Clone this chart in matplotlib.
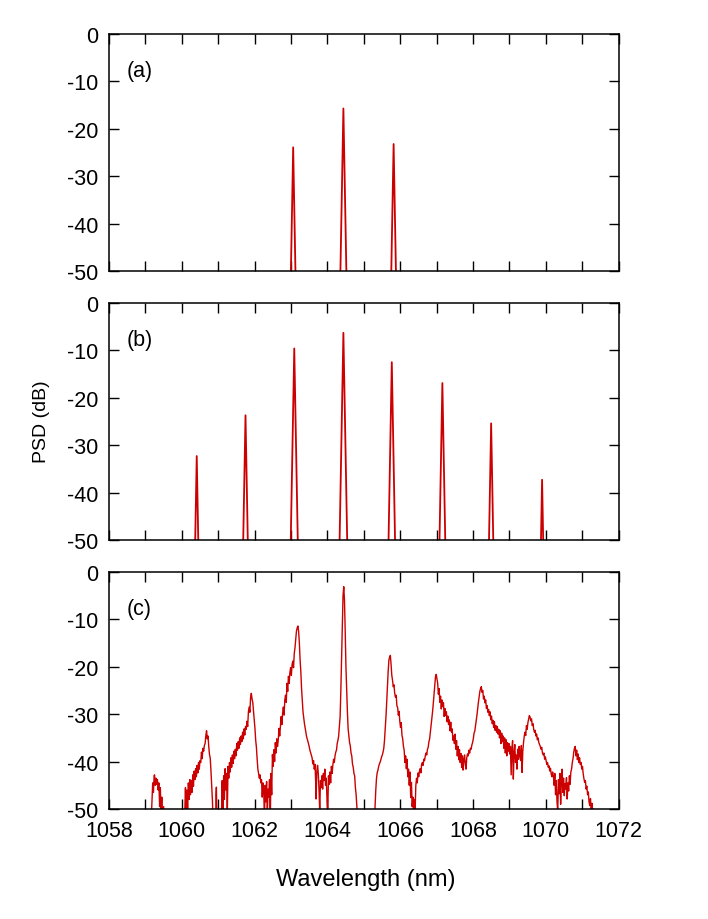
import numpy as np
import matplotlib
matplotlib.use("Agg")
import matplotlib.pyplot as plt

plt.rcParams["font.family"] = ["Liberation Sans", "DejaVu Sans"]
plt.rcParams["axes.unicode_minus"] = False

LINE_COLOR = "#cc0000"

# panel (a): three lines, centre wavelength (nm) and peak level (dB)
a_centers = [1063.06, 1064.44, 1065.82]
a_peaks = [-23.9, -15.7, -23.2]

# panel (b): eight lines
b_centers = [1060.41, 1061.75, 1063.09, 1064.44, 1065.77, 1067.16, 1068.50, 1069.90]
b_peaks = [-32.3, -23.7, -9.6, -6.3, -12.5, -16.9, -25.4, -37.3]

c_wavelength = [
    1059.12, 1059.17, 1059.20, 1059.22, 1059.24, 1059.25, 1059.27, 1059.29, 1059.31, 1059.33,
    1059.35, 1059.37, 1059.39, 1059.41, 1059.43, 1059.45, 1059.47, 1059.50, 1059.54,
    1060.04, 1060.08, 1060.10, 1060.12, 1060.14, 1060.16, 1060.18, 1060.20, 1060.22, 1060.24,
    1060.26, 1060.28, 1060.30, 1060.32, 1060.34, 1060.36, 1060.38, 1060.40, 1060.42, 1060.44,
    1060.46, 1060.48, 1060.50, 1060.52, 1060.54, 1060.56, 1060.58, 1060.60, 1060.62, 1060.64,
    1060.66, 1060.68, 1060.70, 1060.72, 1060.74, 1060.76, 1060.78, 1060.80, 1060.82, 1060.84,
    1060.87, 1060.92, 1060.94, 1060.95, 1060.97, 1061.02,
    1061.06, 1061.09, 1061.11, 1061.13, 1061.15, 1061.17, 1061.19, 1061.21, 1061.23, 1061.25,
    1061.27, 1061.29, 1061.31, 1061.33, 1061.35, 1061.37, 1061.39, 1061.41, 1061.43, 1061.45,
    1061.47, 1061.49, 1061.51, 1061.53, 1061.55, 1061.57, 1061.59, 1061.61, 1061.63, 1061.65,
    1061.67, 1061.69, 1061.71, 1061.73, 1061.75, 1061.77, 1061.79, 1061.81, 1061.83, 1061.85,
    1061.87, 1061.89, 1061.91, 1061.93, 1061.95, 1061.97, 1061.99, 1062.01, 1062.03, 1062.05,
    1062.07, 1062.09, 1062.11, 1062.13, 1062.15, 1062.17, 1062.19, 1062.21, 1062.23, 1062.25,
    1062.27, 1062.29, 1062.31, 1062.33, 1062.35, 1062.37, 1062.39, 1062.41, 1062.43, 1062.45,
    1062.47, 1062.49, 1062.51, 1062.53, 1062.55, 1062.57, 1062.59, 1062.61, 1062.63, 1062.65,
    1062.67, 1062.69, 1062.71, 1062.73, 1062.75, 1062.77, 1062.79, 1062.81, 1062.83, 1062.85,
    1062.87, 1062.89, 1062.91, 1062.93, 1062.95, 1062.97, 1062.99, 1063.01, 1063.03, 1063.05,
    1063.07, 1063.09, 1063.11, 1063.13, 1063.15, 1063.17, 1063.19,
    1063.21, 1063.23, 1063.25, 1063.27, 1063.29, 1063.31, 1063.33, 1063.35, 1063.37, 1063.40,
    1063.43, 1063.46, 1063.49, 1063.52, 1063.55, 1063.58, 1063.60, 1063.62, 1063.64, 1063.66,
    1063.68, 1063.69, 1063.71, 1063.73, 1063.75, 1063.77, 1063.79, 1063.81, 1063.83, 1063.85,
    1063.87, 1063.89, 1063.91, 1063.93, 1063.95, 1063.97, 1063.99, 1064.01, 1064.03, 1064.05,
    1064.07, 1064.09, 1064.11, 1064.13, 1064.15, 1064.17, 1064.19, 1064.21, 1064.23, 1064.25,
    1064.27, 1064.29, 1064.31, 1064.33,
    1064.35, 1064.37, 1064.39, 1064.41, 1064.43, 1064.45, 1064.47, 1064.49, 1064.51, 1064.53,
    1064.55, 1064.57, 1064.59, 1064.61, 1064.63, 1064.65, 1064.67, 1064.69, 1064.71, 1064.73,
    1064.75, 1064.77, 1064.79, 1064.81, 1064.83, 1064.86,
    1065.28, 1065.31, 1065.33, 1065.35, 1065.37, 1065.39, 1065.41, 1065.43, 1065.45, 1065.47,
    1065.49, 1065.51, 1065.53, 1065.55, 1065.57, 1065.59, 1065.61, 1065.63, 1065.65, 1065.67,
    1065.69, 1065.71, 1065.73, 1065.75, 1065.77, 1065.79, 1065.81, 1065.83, 1065.85, 1065.87,
    1065.89, 1065.91, 1065.93, 1065.95, 1065.97, 1065.99, 1066.01, 1066.03, 1066.05, 1066.07,
    1066.09, 1066.11, 1066.13, 1066.15, 1066.17, 1066.19, 1066.21, 1066.23, 1066.25, 1066.27,
    1066.29, 1066.31, 1066.33, 1066.35, 1066.37, 1066.39, 1066.41, 1066.43,
    1066.45, 1066.47, 1066.49, 1066.51, 1066.53, 1066.55, 1066.57, 1066.59, 1066.61, 1066.63,
    1066.65, 1066.67, 1066.69, 1066.71, 1066.73, 1066.75, 1066.77, 1066.79, 1066.81, 1066.83,
    1066.85, 1066.87, 1066.89, 1066.91, 1066.93, 1066.95, 1066.97, 1066.99, 1067.01, 1067.03,
    1067.05, 1067.07, 1067.09, 1067.11, 1067.13, 1067.15, 1067.17, 1067.19, 1067.21, 1067.23,
    1067.25, 1067.27, 1067.29, 1067.31, 1067.33, 1067.35, 1067.37, 1067.39, 1067.41, 1067.43,
    1067.45, 1067.47, 1067.49, 1067.51, 1067.53, 1067.55, 1067.57, 1067.59, 1067.61, 1067.63,
    1067.65, 1067.67, 1067.69, 1067.71, 1067.73, 1067.75, 1067.77, 1067.79, 1067.81, 1067.83,
    1067.85, 1067.87, 1067.89, 1067.91, 1067.93, 1067.95, 1067.97, 1067.99,
    1068.01, 1068.03, 1068.05, 1068.07, 1068.09, 1068.11, 1068.13, 1068.15, 1068.17, 1068.19,
    1068.21, 1068.23, 1068.25, 1068.27, 1068.29, 1068.31, 1068.33, 1068.35, 1068.37, 1068.39,
    1068.41, 1068.43, 1068.45, 1068.47, 1068.49, 1068.51, 1068.53, 1068.55, 1068.57, 1068.59,
    1068.61, 1068.63, 1068.65, 1068.67, 1068.69, 1068.71, 1068.73, 1068.75, 1068.77, 1068.79,
    1068.81, 1068.83, 1068.85, 1068.87, 1068.89, 1068.91, 1068.93, 1068.95, 1068.97, 1068.99,
    1069.01, 1069.03, 1069.05, 1069.07, 1069.09, 1069.11, 1069.13, 1069.15, 1069.17, 1069.19,
    1069.21, 1069.23, 1069.25, 1069.27, 1069.29, 1069.31, 1069.33, 1069.35, 1069.37, 1069.39,
    1069.41, 1069.43, 1069.45, 1069.47, 1069.49, 1069.51, 1069.53, 1069.55, 1069.57, 1069.59,
    1069.61, 1069.63, 1069.65, 1069.67, 1069.69, 1069.71, 1069.73, 1069.75, 1069.77, 1069.79,
    1069.81, 1069.83, 1069.85, 1069.87, 1069.89, 1069.91, 1069.93, 1069.95, 1069.97, 1069.99,
    1070.01, 1070.03, 1070.05, 1070.07, 1070.09, 1070.11, 1070.13, 1070.15, 1070.17, 1070.19,
    1070.21, 1070.23, 1070.25, 1070.27, 1070.29, 1070.31, 1070.33, 1070.35, 1070.37, 1070.39,
    1070.41, 1070.43, 1070.45, 1070.47, 1070.49, 1070.51, 1070.53, 1070.55, 1070.57, 1070.59,
    1070.61, 1070.63, 1070.65, 1070.67,
    1070.69, 1070.71, 1070.73, 1070.75, 1070.77, 1070.79, 1070.81, 1070.83, 1070.85, 1070.87,
    1070.89, 1070.91, 1070.93, 1070.95, 1070.97, 1070.99, 1071.01, 1071.03, 1071.05, 1071.07,
    1071.09, 1071.11, 1071.13, 1071.15, 1071.17, 1071.19, 1071.21, 1071.23, 1071.25, 1071.27,
    1071.29, 1071.31, 1071.33, 1071.36,
]
c_psd = [
    -60, -50.5, -44.5, -46.5, -43.0, -42.8, -45.0, -43.5, -44.8, -43.8,
    -46.0, -44.5, -49.5, -45.5, -51, -47.5, -52, -49.5, -60,
    -60, -51, -45.5, -52, -46, -50.5, -44.5, -48, -43.8, -47,
    -44, -46.5, -42.8, -45.2, -42, -43.8, -41.5, -43.2, -40.8, -42.4,
    -40.2, -41.6, -39.8, -40.2, -38, -39.4, -37.2, -37.8, -36.6, -36.2,
    -34.5, -33.5, -35.2, -34.6, -36.8, -38.5, -39.2, -41.8, -45, -48,
    -55, -58, -47, -45.4, -55, -60,
    -60, -51, -44, -52, -43, -48, -41.5, -46, -42.5, -51,
    -41, -43.5, -40.2, -42.2, -39.2, -41.2, -38.6, -40.4, -37.8, -39.4,
    -37.4, -38.8, -36.2, -37.6, -35.8, -37.2, -35, -36.4, -34.6, -35.8,
    -33.8, -35.2, -33.1, -34.4, -32.6, -33.2, -31.5, -32.6, -29.5, -28.5,
    -29.6, -26.5, -25.6, -26.8, -27.5, -29.5, -31.2, -33, -35.5, -37,
    -39.5, -41.6, -42.5, -43.5, -42.8, -44.5, -43.8, -47.5, -44.5, -46,
    -52, -45, -48.5, -44.2, -51, -45.8, -47.5, -43.8, -53, -42.5,
    -47, -38.5, -41, -37.5, -40, -36, -38.2, -35.2, -36.8, -35.5,
    -33, -34.6, -32.5, -30.5, -32.2, -29.8, -28.5, -30.2, -27, -26,
    -27.5, -23.5, -25.2, -22, -23.5, -21.2, -20.2, -21.8, -19.5, -18.8,
    -20.2, -17.2, -16, -14.2, -12.5, -11.8, -11.4,
    -12.5, -15, -18.5, -21, -24.5, -27.2, -29.5, -30.8, -32, -33.4,
    -34.8, -35.6, -36.5, -37.6, -38.4, -39.2, -40.5, -39.8, -41.6, -40.6,
    -44.5, -47.9, -42, -40.8, -42.5, -46, -50.5, -44, -45.5, -43,
    -45.8, -42.5, -44, -41.6, -45, -43.5, -48, -51, -43, -44.8,
    -42.2, -44.5, -41, -42.5, -40.8, -39.5, -40.2, -38.8, -38, -37.6,
    -36.2, -35.5, -34.6, -32.4,
    -30.5, -25, -18, -10, -5, -3.1, -6, -12.5, -20, -25,
    -29.5, -33.1, -34.5, -36, -36.7, -38.2, -38.8, -40.5, -41.2, -42.5,
    -43, -45.5, -47, -49.5, -53, -60,
    -60, -49.5, -46, -43.5, -42.3, -41.8, -41, -40.5, -40.1, -39.6,
    -39, -38.6, -38, -37.2, -35.5, -33, -30.5, -27.5, -24, -21,
    -18.6, -18, -17.6, -19.5, -21.8, -22.8, -24.2, -23.8, -25.6, -26.4,
    -26, -28.2, -28.6, -30.2, -29.4, -31.5, -32.8, -31.8, -34.5, -35.2,
    -36.8, -37.6, -40.2, -38.8, -41.5, -39.5, -43.2, -41.6, -45, -42.2,
    -47.6, -44.4, -49.5, -47.5, -52, -48, -50.5, -45.1,
    -43.5, -44.5, -42.4, -43.2, -42.0, -41.5, -42.4, -40.6, -40.2, -40.8,
    -39.5, -39.8, -38.8, -38.2, -38.6, -37.4, -37.0, -35.8, -35.2, -33.8,
    -32.6, -31.2, -29.5, -27.8, -25.8, -24, -22.2, -21.6, -22.5, -23.4,
    -25.8, -24.6, -27.5, -26.2, -28.9, -27, -28.4, -27.6, -30.5, -28.8,
    -30.3, -29.5, -31.6, -30.4, -32.2, -31.2, -33.5, -31.7, -33.8, -33.1,
    -35.5, -34.6, -36.2, -34.2, -37.4, -35.6, -38.8, -36.8, -39.6, -37.5,
    -40.2, -38.3, -41.2, -38.8, -41.8, -39.5, -38.6, -40.5, -41.6, -39.2,
    -38.4, -38.8, -37.6, -38.2, -37.2, -37.4, -36.5, -36.0,
    -35.2, -34, -33.6, -32.5, -31.5, -30.2, -28.8, -27.5, -26.4, -25.2,
    -24.6, -24.2, -25.4, -25, -26.8, -26.2, -27.6, -27, -28.8, -28.2,
    -29.6, -29, -30.3, -29.5, -31.2, -30.4, -32, -31.3, -32.8, -31.6,
    -33.4, -32.4, -33.8, -32.6, -34.2, -33.2, -35, -33.5, -36.2, -34,
    -35.8, -34.6, -37.2, -35, -38.2, -35.4, -38.8, -36, -37.8, -36.2,
    -38.4, -36.8, -42.8, -37.2, -35.6, -43.7, -38.2, -36.4, -40.2, -38.6,
    -41.6, -37.4, -39.5, -36.8, -38.8, -39.8, -36.6, -42.3, -37.8, -36,
    -34.6, -33.8, -34.5, -32.4, -33.2, -31.8, -31, -30.3, -30.6, -31.4,
    -31, -32.4, -32, -33.2, -33.8, -33.4, -34.6, -34.2, -35.4, -35,
    -36, -36.4, -36.8, -37.4, -37, -38.2, -38.6, -38.2, -39.5, -39,
    -39.8, -40.6, -40.2, -41.2, -40.9, -42, -41.4, -42.6, -43.2, -42.2,
    -43, -45, -42.5, -47, -44, -48.5, -50.5, -43.8, -46.8, -42.5,
    -49, -44.2, -41.6, -46.5, -43.5, -47.2, -44.6, -45.8, -43.4, -47.9,
    -44.5, -46.2, -43, -44.8,
    -42.2, -41.6, -40.2, -39.4, -38, -37.2, -36.8, -38.8, -37.6, -39.6,
    -38.4, -40.2, -39.2, -40.6, -40.2, -41.6, -41, -42.6, -43.6, -44.4,
    -44, -45.8, -45.2, -47, -46.4, -48.5, -49.3, -47.8, -50.5, -48.8,
    -52, -50, -54, -60,
]

panel_tags = ["(a)", "(b)", "(c)"]
x_ticks = list(range(1058, 1073))
y_ticks = [0, -10, -20, -30, -40, -50]


def spike_trace(centers, peaks, slope=420.0, floor=-60.0):
    # narrow triangular lines going below the axis floor
    xs, ys = [], []
    for c, p in zip(centers, peaks):
        hw = (p - floor) / slope
        xs += [c - hw, c, c + hw]
        ys += [floor, p, floor]
    return xs, ys


def style_axis(ax, tag, show_xlabels):
    ax.set_xlim(1058, 1072)
    ax.set_ylim(-50, 0)
    ax.set_xticks(x_ticks)
    if show_xlabels:
        ax.set_xticklabels([str(t) if t % 2 == 0 else "" for t in x_ticks])
    else:
        ax.set_xticklabels([])
    ax.set_yticks(y_ticks)
    ax.set_yticklabels([str(t) for t in y_ticks])
    ax.tick_params(direction="in", length=7, width=1.0, top=True, right=True,
                   labelsize=15.5, pad=8)
    for sp in ax.spines.values():
        sp.set_linewidth(1.1)
    ax.text(0.035, 0.845, tag, transform=ax.transAxes, fontsize=15.5,
            ha="left", va="center")


if __name__ == "__main__":
    fig = plt.figure(figsize=(7.08, 9.2), dpi=100)
    left, width, height = 0.154, 0.7196, 0.2576
    bottoms = [0.7043, 0.4120, 0.1196]
    axes = [fig.add_axes([left, b, width, height]) for b in bottoms]

    xa, ya = spike_trace(a_centers, a_peaks)
    axes[0].plot(xa, ya, color=LINE_COLOR, lw=1.3)

    xb, yb = spike_trace(b_centers, b_peaks)
    axes[1].plot(xb, yb, color=LINE_COLOR, lw=1.3)

    axes[2].plot(c_wavelength, c_psd, color=LINE_COLOR, lw=1.0)

    for i, ax in enumerate(axes):
        style_axis(ax, panel_tags[i], i == 2)

    fig.text(42 / 708, 1 - 422 / 920, "PSD (dB)", rotation=90, fontsize=14,
             ha="center", va="center")
    fig.text(366 / 708, 1 - 880 / 920, "Wavelength (nm)", fontsize=17,
             ha="center", va="center")

    fig.savefig("out.png", dpi=100)
